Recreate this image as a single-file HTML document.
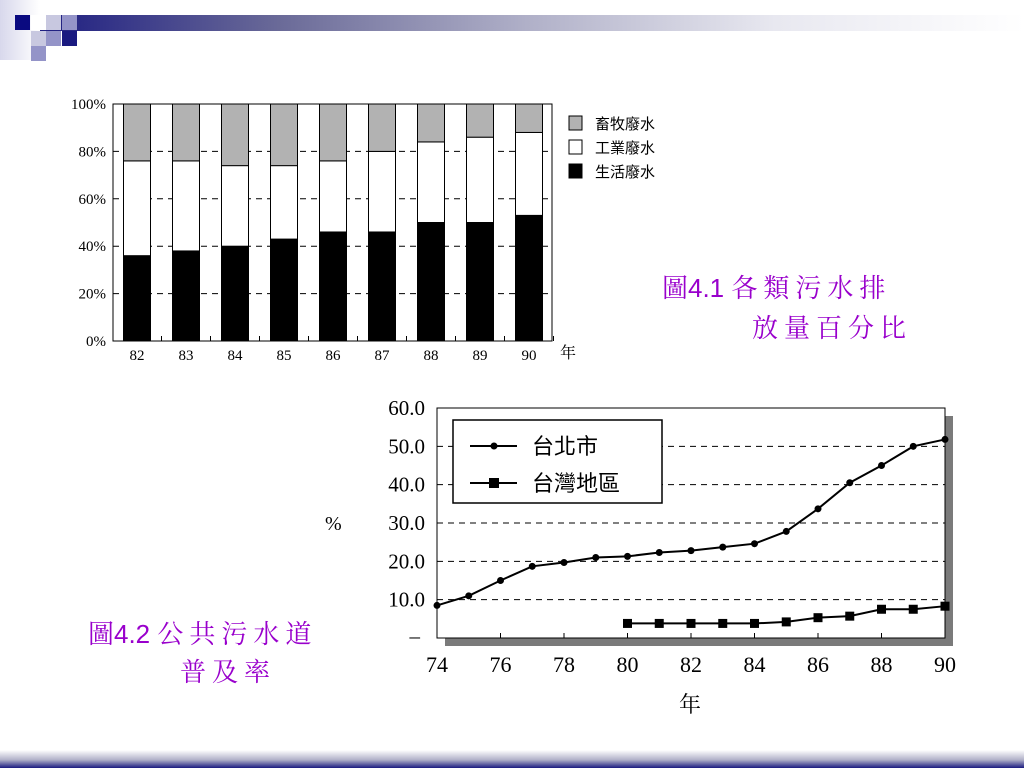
<!DOCTYPE html>
<html><head><meta charset="utf-8"><style>
body{margin:0;width:1024px;height:768px;overflow:hidden;background:#fff;font-family:"Liberation Serif","Noto Serif CJK SC",serif;}
.abs{position:absolute}
.ttl{position:absolute;color:#9900cc;font-family:"Liberation Sans","Noto Serif CJK SC",serif;font-size:26px;letter-spacing:6px;white-space:nowrap}
.ttl b{font-weight:normal;letter-spacing:0}
</style></head><body>
<div class="abs" style="left:30px;top:15px;width:994px;height:16px;background:linear-gradient(to right,#1a1a80,#6a6a98 25%,#b0b0c8 50%,#e8e8f0 75%,#fff)"></div>
<div class="abs" style="left:0;top:0;width:40px;height:60px;background:linear-gradient(to right,#d8d8ec,#fff)"></div>
<div class="abs" style="left:15px;top:15px;width:15px;height:15px;background:#0a0a80"></div>
<div class="abs" style="left:31px;top:15px;width:15px;height:15px;background:#fff"></div>
<div class="abs" style="left:46px;top:15px;width:15px;height:15px;background:#c8c8e0"></div>
<div class="abs" style="left:62px;top:15px;width:15px;height:15px;background:#9494c8"></div>
<div class="abs" style="left:31px;top:31px;width:15px;height:15px;background:#c8c8e0"></div>
<div class="abs" style="left:46px;top:31px;width:15px;height:15px;background:#9494c8"></div>
<div class="abs" style="left:62px;top:31px;width:15px;height:15px;background:#1a1a80"></div>
<div class="abs" style="left:31px;top:46px;width:15px;height:15px;background:#9494c8"></div>
<div class="abs" style="left:0;top:750px;width:1024px;height:18px;background:linear-gradient(to bottom,#fff,#b0b0c8 55%,#1a1a80)"></div>

<svg class="abs" style="left:0;top:0" width="1024" height="768" id="svg"></svg>

<div class="ttl" style="left:662px;top:268px"><b>圖4.1 </b>各類污水排</div>
<div class="ttl" style="left:752px;top:308px">放量百分比</div>
<div class="ttl" style="left:88px;top:614px"><b>圖4.2 </b>公共污水道</div>
<div class="ttl" style="left:180px;top:652px">普及率</div>

<script>
const years1=["82","83","84","85","86","87","88","89","90"];
const domestic=[36,38,40,43,46,46,50,50,53];
const industrial=[40,38,34,31,30,34,34,36,35];
const livestock=[24,24,26,26,24,20,16,14,12];
const ticks1=["0%","20%","40%","60%","80%","100%"];

const years2=[74,75,76,77,78,79,80,81,82,83,84,85,86,87,88,89,90];
const taipei=[8.5,11,15,18.7,19.7,21,21.3,22.3,22.8,23.7,24.6,27.8,33.7,40.5,45,50,51.8];
const taiwanYears=[80,81,82,83,84,85,86,87,88,89,90];
const taiwan=[3.8,3.8,3.8,3.8,3.8,4.2,5.3,5.7,7.5,7.5,8.3];
const ticks2=[10,20,30,40,50,60];
const xticks2=[74,76,78,80,82,84,86,88,90];

const svg=document.getElementById('svg');
const NS='http://www.w3.org/2000/svg';
function mk(t,a,p){const e=document.createElementNS(NS,t);for(const k in a)e.setAttribute(k,a[k]);(p||svg).appendChild(e);return e;}

// chart 1
const L1=113,R1=552,T1=104,B1=341;
const y1=v=>B1-(B1-T1)*v/100;
const x1=i=>137+i*49;
for(let v=20;v<100;v+=20){const g=mk('line',{x1:L1,x2:R1,y1:y1(v),y2:y1(v),stroke:'#000','stroke-dasharray':'6,5'});

}
years1.forEach((yr,i)=>{
  const segs=[[0,domestic[i],'#000','bar-domestic'],[domestic[i],domestic[i]+industrial[i],'#fff','bar-industrial'],[domestic[i]+industrial[i],100,'#b2b2b2','bar-livestock']];
  segs.forEach(s=>{const r=mk('rect',{x:x1(i)-13.5,width:27,y:y1(s[1]),height:y1(s[0])-y1(s[1]),fill:s[2],stroke:'#000','stroke-width':1});
  
  });
  const t=mk('text',{x:x1(i),y:360,'text-anchor':'middle','font-size':15});t.textContent=yr;
  
  
  mk('line',{x1:x1(i)+24.5,x2:x1(i)+24.5,y1:B1,y2:B1-5,stroke:'#000'});
});
mk('rect',{x:L1,y:T1,width:R1-L1,height:B1-T1,fill:'none',stroke:'#000'});
ticks1.forEach((t,i)=>{const e=mk('text',{x:106,y:y1(i*20)+5,'text-anchor':'end','font-size':15});e.textContent=t;

});
const yl=mk('text',{x:560,y:358,'font-size':16,'font-family':'Noto Serif CJK SC,serif'});yl.textContent='年';


[['#b2b2b2','畜牧廢水',116],['#fff','工業廢水',140],['#000','生活廢水',164]].forEach(l=>{
  const r=mk('rect',{x:569,y:l[2],width:13,height:14,fill:l[0],stroke:'#000'});
  
  
  const t=mk('text',{x:595,y:l[2]+13,'font-size':15,'font-family':'Noto Sans CJK TC,sans-serif'});t.textContent=l[1];
  
  
});

// chart 2
const L2=437,R2=945,T2=408,B2=638;
const x2=v=>L2+(R2-L2)*(v-74)/16;
const y2=v=>B2-(B2-T2)*v/60;
mk('rect',{x:L2+8,y:T2+8,width:R2-L2,height:B2-T2,fill:'#7a7a7a'});
mk('rect',{x:L2,y:T2,width:R2-L2,height:B2-T2,fill:'#fff',stroke:'#000'});
ticks2.forEach(v=>{ if(v<60){const g=mk('line',{x1:L2,x2:R2,y1:y2(v),y2:y2(v),stroke:'#000','stroke-dasharray':'6,5'});

}
  const t=mk('text',{x:425,y:y2(v)+7,'text-anchor':'end','font-size':21});t.textContent=v.toFixed(1);
  
  });
const zd=mk('text',{x:420,y:y2(0)+5,'text-anchor':'end','font-size':21});zd.textContent='–';
xticks2.forEach(v=>{mk('line',{x1:x2(v),x2:x2(v),y1:B2,y2:B2-5,stroke:'#000'});
  const t=mk('text',{x:x2(v),y:672,'text-anchor':'middle','font-size':22});t.textContent=v;
  
  });
mk('polyline',{points:years2.map((y,i)=>x2(y)+','+y2(taipei[i])).join(' '),fill:'none',stroke:'#000','stroke-width':2});
years2.forEach((y,i)=>{const c=mk('circle',{cx:x2(y),cy:y2(taipei[i]),r:3.5,fill:'#000'});

});
mk('polyline',{points:taiwanYears.map((y,i)=>x2(y)+','+y2(taiwan[i])).join(' '),fill:'none',stroke:'#000','stroke-width':2});
taiwanYears.forEach((y,i)=>{const r=mk('rect',{x:x2(y)-4.5,y:y2(taiwan[i])-4.5,width:9,height:9,fill:'#000'});

});
const lg=mk('rect',{x:453,y:420,width:209,height:83,fill:'#fff',stroke:'#000','stroke-width':1.5});


mk('line',{x1:470,x2:517,y1:446,y2:446,stroke:'#000','stroke-width':2});mk('circle',{cx:494,cy:446,r:3.5});
mk('line',{x1:470,x2:517,y1:483,y2:483,stroke:'#000','stroke-width':2});mk('rect',{x:489,y:478,width:10,height:10});
[['台北市',454],['台灣地區',491]].forEach(l=>{const t=mk('text',{x:532,y:l[1],'font-size':22,'font-family':'Noto Sans CJK TC,sans-serif'});t.textContent=l[0];

});
const pc=mk('text',{x:325,y:530,'font-size':20});pc.textContent='%';


const yr=mk('text',{x:690,y:712,'text-anchor':'middle','font-size':22,'font-family':'Noto Serif CJK SC,serif'});yr.textContent='年';


</script>
</body></html>
